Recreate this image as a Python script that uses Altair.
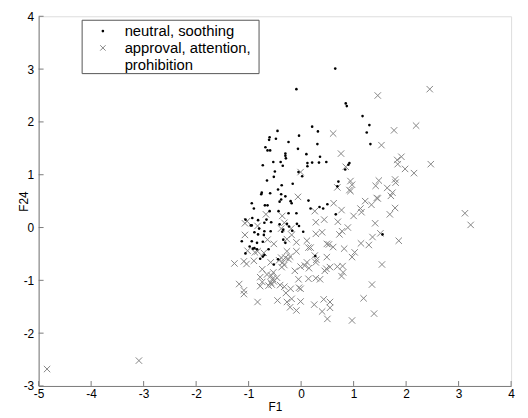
import altair as alt
import pandas as pd

# neutral, soothing (black dots)
dot_x = [0.65, -0.09, 0.85, 0.87, 1.17, 1.30, 1.25, 1.32, 0.21, 0.32, 0.31, -0.04, -0.45, -0.60, -0.61,
         -0.48, -0.24, -0.68, -0.64, -0.59, -0.30, -0.30, -0.29, -0.06, 0.10, 0.36, 0.34, 0.48, -0.39,
         -0.53, -0.35, -0.73, -0.50, -0.52, -0.05, 0.12, 0.12, 0.21, 0.02, -0.16, 0.92, 0.90, 0.84, 0.71,
         -0.65, -0.44, -0.37, -0.75, -0.76, -0.59, -0.38, -0.30, -0.41, -0.38, -0.20, -0.18, 0.14, 0.18,
         0.35, 0.42, 0.50, 0.69, -0.94, -0.90, -0.69, -0.64, -0.60, -0.43, -0.24, -0.09, 0.66, -0.93,
         -1.06, -0.82, -0.66, -0.57, -0.70, -0.96, -0.94, -0.41, -0.27, -0.23, -0.08, -0.04, -0.80, -0.70,
         -0.58, -0.36, -0.34, -0.17, 0.04, -0.89, -0.82, -0.71, -1.13, -0.94, -0.84, -0.73, -0.34, -0.30,
         -0.98, -0.92, -0.89, -0.84, -1.06, -0.62, -0.70, -0.73, -0.78, -0.44, -0.52, 0.27, 1.55]
dot_y = [3.01, 2.62, 2.35, 2.30, 2.11, 1.94, 1.80, 1.58, 1.91, 1.82, 1.58, 1.74, 1.83, 1.71, 1.66,
         1.68, 1.62, 1.52, 1.46, 1.46, 1.40, 1.36, 1.31, 1.49, 1.39, 1.34, 1.23, 1.24, 1.24,
         1.24, 1.17, 1.18, 1.06, 0.96, 1.05, 1.22, 1.16, 1.23, 0.97, 0.83, 1.22, 1.19, 1.10, 0.87,
         0.89, 0.72, 0.80, 0.66, 0.63, 0.65, 0.63, 0.59, 0.49, 0.53, 0.50, 0.46, 0.51, 0.36,
         0.39, 0.36, 0.44, 0.78, 0.46, 0.36, 0.42, 0.42, 0.31, 0.31, 0.27, 0.27, 0.25, 0.18,
         0.15, 0.14, 0.15, 0.10, 0.09, 0.04, 0.04, 0.06, 0.07, 0.02, 0.07, 0.03, -0.02, -0.07,
         -0.07, -0.08, -0.04, -0.06, -0.08, -0.09, -0.13, -0.14, -0.26, -0.26, -0.29, -0.27, -0.23, -0.29,
         -0.36, -0.40, -0.39, -0.41, -0.49, -0.41, -0.52, -0.55, -0.59, -0.60, -0.70, -0.54, -0.13]

# approval, attention, prohibition (gray crosses)
cross_x = [2.45, 1.46, 2.19, 1.77, 0.61, 1.53, 0.76, 1.91, 1.83, 1.84, 1.98, 2.15, 2.47, 0.85, -0.01,
           0.94, 0.97, 0.69, 0.92, 0.94, 1.48, 1.42, 1.79, 1.80, 1.64, 1.74, 1.71, 1.44, 1.46, 1.22,
           1.34, 1.13, 1.15, 1.79, 1.69, 1.00, 0.77, 0.62, 0.26, -0.06, -0.67, -1.07, -1.03, -1.07, -1.02,
           -0.36, -0.38, -0.19, -0.18, -0.27, -0.09, 0.11, 0.14, 0.18, 0.28, 0.40, 0.28, 0.44, 0.70,
           0.89, 0.78, 0.73, 1.41, 1.14, 1.29, 1.36, 1.51, 1.86, 1.02, 0.97, 0.82, 0.61, 0.49, 0.53,
           0.49, 1.54, 0.79, 0.80, 0.77, 0.69, 0.55, 0.48, 0.45, 0.26, 0.29, 0.28, 0.11, 0.07, -0.01,
           0.15, 0.14, 0.28, 0.36, -0.05, -0.04, -0.01, -0.01, -0.09, -0.12, -0.09, -0.21, -0.27, -0.18,
           -0.20, -0.29, -0.32, -0.40, -0.45, -0.30, -0.24, -0.21, -0.32, -0.37, -0.35, -0.42, -0.38, -0.27,
           -0.53, -0.46, -0.54, -0.57, -0.52, -0.58, -0.56, -0.62, -0.65, -0.74, -0.74, -0.78, -0.78, -0.90,
           -0.71, -0.83, -0.58, -0.52, -0.83, -1.09, -1.04, -1.27, -1.18, -1.09, -1.09, 0.43, 0.40, 0.55,
           0.55, 0.50, 0.25, 0.97, 1.19, 1.35, 1.39, 3.12, 3.23, -3.09, -4.84, -0.64, -0.83, -0.88, -0.32]
cross_y = [2.62, 2.50, 1.93, 1.84, 1.78, 1.56, 1.40, 1.34, 1.28, 1.20, 1.11, 1.03, 1.20, 1.15, 1.05,
           0.88, 0.81, 0.76, 0.71, 0.69, 0.89, 0.79, 0.91, 0.85, 0.75, 0.66, 0.60, 0.56, 0.55, 0.50,
           0.43, 0.36, 0.29, 0.37, 0.25, 0.22, 0.33, 0.46, 0.31, 0.58, 0.25, 0.08, 0.12, -0.14, -0.44,
           0.22, -0.02, -0.02, -0.14, -0.22, -0.28, -0.25, -0.38, -0.38, -0.12, -0.09, 0.10, 0.15, 0.11,
           0.00, -0.07, -0.13, 0.08, -0.30, -0.33, -0.18, -0.11, -0.25, -0.47, -0.56, -0.40, -0.37, -0.31, -0.32,
           -0.56, -0.70, -0.73, -0.85, -0.92, -0.74, -0.75, -0.78, -0.82, -0.53, -0.61, -0.66, -0.66, -0.72, -0.74,
           -0.77, -0.97, -0.96, -0.98, -0.98, -1.14, -1.16, -1.40, -0.45, -0.82, -1.57, -1.51, -1.41, -1.35,
           -1.16, -1.24, -1.12, -1.09, -1.38, -0.57, -0.60, -0.55, -0.71, -0.75, -0.66, -0.62, -0.57, -0.45,
           -0.85, -0.95, -0.97, -0.91, -1.02, -1.04, -1.08, -1.10, -0.89, -1.03, -0.79, -0.94, -1.11, -0.63,
           -0.48, -0.45, -0.66, -0.31, -1.41, -0.64, -0.69, -0.68, -1.07, -1.19, -1.26, -1.36, -1.59, -1.41,
           -1.52, -1.73, -1.46, -1.76, -1.34, -1.08, -1.63, 0.27, 0.05, -2.52, -2.68, -0.23, 0.03, -0.47, 0.09]

x_ticks = [-5, -4, -3, -2, -1, 0, 1, 2, 3, 4]
y_ticks = [-3, -2, -1, 0, 1, 2, 3, 4]
legend_labels = ["neutral, soothing", "approval, attention,", "prohibition"]

W, H = 478, 374
FONT = "Liberation Sans"
AXC = "#7a7a7a"
CROSS = "#858585"

dots = pd.DataFrame({"x": dot_x, "y": dot_y})
crosses = pd.DataFrame({"x": cross_x, "y": cross_y})

xs = alt.Scale(domain=[-5, 4], nice=False, zero=False)
ys = alt.Scale(domain=[-3, 4], nice=False, zero=False)

xaxis = alt.Axis(values=x_ticks, grid=False, ticks=False, domainColor=AXC, labelColor="black",
                 labelFont=FONT, labelFontSize=12, labelPadding=3, labelFlush=False,
                 labelExpr="datum.value + ''",
                 title="F1", titleFont=FONT, titleFontSize=12, titleFontWeight="normal",
                 titlePadding=2, titleColor="black")
yaxis = alt.Axis(values=y_ticks, grid=False, ticks=False, domainColor=AXC, labelColor="black",
                 labelFont=FONT, labelFontSize=12, labelPadding=5, labelFlush=False,
                 labelExpr="datum.value + ''",
                 title="F24", titleFont=FONT, titleFontSize=12, titleFontWeight="normal",
                 titleX=-15, titleY=H / 2, titleAlign="center", titleBaseline="middle",
                 titleColor="black")

base_cross = alt.Chart(crosses).mark_point(
    shape="M-1,-1L1,1M-1,1L1,-1", size=42, filled=False, strokeWidth=1, color=CROSS, opacity=1
).encode(x=alt.X("x:Q", scale=xs, axis=xaxis), y=alt.Y("y:Q", scale=ys, axis=yaxis))

base_dot = alt.Chart(dots).mark_point(
    shape="circle", size=7, filled=True, color="black", opacity=1
).encode(x=alt.X("x:Q", scale=xs), y=alt.Y("y:Q", scale=ys))

xt = alt.Chart(pd.DataFrame({"v": x_ticks})).mark_rule(color=AXC, strokeWidth=1).encode(
    x=alt.X("v:Q", scale=xs), y=alt.value(H), y2=alt.value(H - 5))
yt = alt.Chart(pd.DataFrame({"y": y_ticks})).mark_rule(color=AXC, strokeWidth=1).encode(
    y=alt.Y("y:Q", scale=ys), x=alt.value(0), x2=alt.value(5))

# legend (drawn by hand)
leg_box = alt.Chart(pd.DataFrame({"a": [0]})).mark_rect(
    fill="white", stroke="#555555", strokeWidth=1
).encode(x=alt.value(44), x2=alt.value(223), y=alt.value(4), y2=alt.value(58))
leg_dot = alt.Chart(pd.DataFrame({"a": [0]})).mark_point(
    shape="circle", size=7, filled=True, color="black", opacity=1
).encode(x=alt.value(65), y=alt.value(15))
leg_cross = alt.Chart(pd.DataFrame({"a": [0]})).mark_point(
    shape="M-1,-1L1,1M-1,1L1,-1", size=30, filled=False, strokeWidth=1, color=CROSS, opacity=1
).encode(x=alt.value(65), y=alt.value(32))
leg_texts = [
    alt.Chart(pd.DataFrame({"t": [lab]})).mark_text(
        align="left", baseline="middle", font=FONT, fontSize=15, color="black"
    ).encode(x=alt.value(87), y=alt.value(15 + 17 * i), text="t:N")
    for i, lab in enumerate(legend_labels)
]

chart = alt.layer(base_cross, base_dot, xt, yt, leg_box, leg_dot, leg_cross, *leg_texts).properties(
    width=W, height=H,
    autosize=alt.AutoSizeParams(type="none"),
    padding={"left": 31, "top": 6, "right": 9, "bottom": 28},
).configure_view(stroke=None).configure(background="white")

chart.save("out.html", embed_options={"renderer": "svg", "actions": False})
